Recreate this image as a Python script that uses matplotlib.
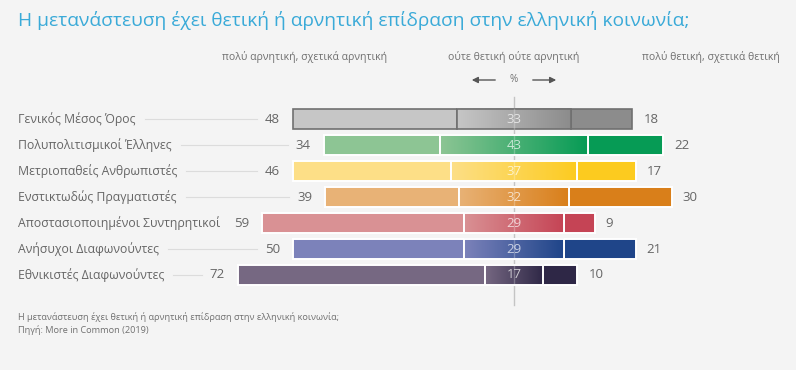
import numpy as np
import matplotlib
matplotlib.use("Agg")
import matplotlib.pyplot as plt
from matplotlib.colors import LinearSegmentedColormap
from matplotlib.transforms import blended_transform_factory

plt.rcParams['font.family'] = ['Open Sans', 'DejaVu Sans']

# ---- data ----
categories = ["Γενικός Μέσος Όρος", "Πολυπολιτισμικοί Έλληνες", "Μετριοπαθείς Ανθρωπιστές",
              "Ενστικτωδώς Πραγματιστές", "Αποστασιοποιημένοι Συντηρητικοί",
              "Ανήσυχοι Διαφωνούντες", "Εθνικιστές Διαφωνούντες"]
negative = [48, 34, 46, 39, 59, 50, 72]
neutral = [33, 43, 37, 32, 29, 29, 17]
positive = [18, 22, 17, 30, 9, 21, 10]
neg_colors = ["#c6c6c6", "#8dc594", "#fddf87", "#e8b276", "#d99194", "#7c82ba", "#766882"]
pos_colors = ["#8c8c8c", "#069b55", "#fccb1f", "#d97f1a", "#c54455", "#1f4589", "#2e2746"]
title = "Η μετανάστευση έχει θετική ή αρνητική επίδραση στην ελληνική κοινωνία;"
head_neg = "πολύ αρνητική, σχετικά αρνητική"
head_neu = "ούτε θετική ούτε αρνητική"
head_pos = "πολύ θετική, σχετικά θετική"
foot1 = "Η μετανάστευση έχει θετική ή αρνητική επίδραση στην ελληνική κοινωνία;"
foot2 = "Πηγή: More in Common (2019)"

W, H = 796, 370
fig = plt.figure(figsize=(W / 100, H / 100), dpi=100)
bg = "#f4f4f4"
fig.patch.set_facecolor(bg)
ax = fig.add_axes([0, 0, 1, 1])
ax.set_facecolor(bg)
ax.axis("off")

cx, ppu = 514.0, 3.43      # centre pixel, pixels per percent
y0, dy = 119.0, 26.0       # first row pixel, row spacing
ax.set_xlim((0 - cx) / ppu, (W - cx) / ppu)
ax.set_ylim((H - y0) / dy, (0 - y0) / dy)

bh = 0.77
# centre line
ax.plot([0, 0], [(97 - y0) / dy, (305 - y0) / dy], color="#c4c4c4", lw=1, zorder=1)

fig.canvas.draw()
r = fig.canvas.get_renderer()
xt = blended_transform_factory(fig.transFigure, ax.transData)

for i, cat in enumerate(categories):
    n, m, p = negative[i], neutral[i], positive[i]
    left_n = -m / 2 - n
    left_m = -m / 2
    left_p = m / 2
    gray = i == 0
    ec = "#707070" if gray else "white"
    lw = 1.2 if gray else 1.4
    ax.barh(i, n, left=left_n, height=bh, color=neg_colors[i], edgecolor=ec, lw=lw, zorder=2)
    ax.barh(i, p, left=left_p, height=bh, color=pos_colors[i], edgecolor=ec, lw=lw, zorder=2)
    cmap = LinearSegmentedColormap.from_list("g%d" % i, [neg_colors[i], pos_colors[i]])
    grad = np.linspace(0, 1, 256).reshape(1, -1)
    ax.imshow(grad, cmap=cmap, aspect="auto", extent=(left_m, left_p, i + bh / 2, i - bh / 2),
              zorder=2, interpolation="bilinear")
    ax.barh(i, m, left=left_m, height=bh, color="none", edgecolor=ec, lw=lw, zorder=3)
    ax.plot([0, 0], [i - bh / 2, i + bh / 2], color="white", alpha=0.25, lw=1, zorder=4)
    ax.text(0, i, str(m), ha="center", va="center", fontsize=9.5, color="white", alpha=0.7, zorder=5)
    vt = ax.text(left_n - 13 / ppu, i, str(n), ha="right", va="center", fontsize=9.5, color="#666666")
    ax.text(left_p + p + 11 / ppu, i, str(p), ha="left", va="center", fontsize=9.5, color="#666666")
    lt = ax.text(18 / W, i, cat, transform=xt, ha="left", va="center", fontsize=8.8, color="#666666")
    e1 = lt.get_window_extent(r)
    e2 = vt.get_window_extent(r)
    xa = (e1.x1 + 9 - cx) / ppu
    xb = (e2.x0 - 8 - cx) / ppu
    if xb > xa:
        ax.plot([xa, xb], [i, i], color="#dcdcdc", lw=0.8, zorder=1)

fig.text(18 / W, 1 - 20 / H, title, fontsize=13.8, color="#3aaad8", ha="left", va="center")
fig.text(305 / W, 1 - 57 / H, head_neg, fontsize=7.6, color="#707070", ha="center", va="center")
fig.text(cx / W, 1 - 57 / H, head_neu, fontsize=7.6, color="#707070", ha="center", va="center")
fig.text(780 / W, 1 - 57 / H, head_pos, fontsize=7.6, color="#707070", ha="right", va="center")
fig.text(cx / W, 1 - 80 / H, "%", fontsize=7.2, color="#707070", ha="center", va="center")
ay = (80 - y0) / dy
ax.annotate("", xy=((469 - cx) / ppu, ay), xytext=((498 - cx) / ppu, ay),
            arrowprops=dict(arrowstyle="-|>", color="#555555", lw=1, mutation_scale=9))
ax.annotate("", xy=((559 - cx) / ppu, ay), xytext=((530 - cx) / ppu, ay),
            arrowprops=dict(arrowstyle="-|>", color="#555555", lw=1, mutation_scale=9))
fig.text(18 / W, 1 - 317 / H, foot1, fontsize=6.6, color="#707070", ha="left", va="center")
fig.text(18 / W, 1 - 330 / H, foot2, fontsize=6.6, color="#707070", ha="left", va="center")

fig.savefig("out.png", dpi=100, facecolor=bg)
